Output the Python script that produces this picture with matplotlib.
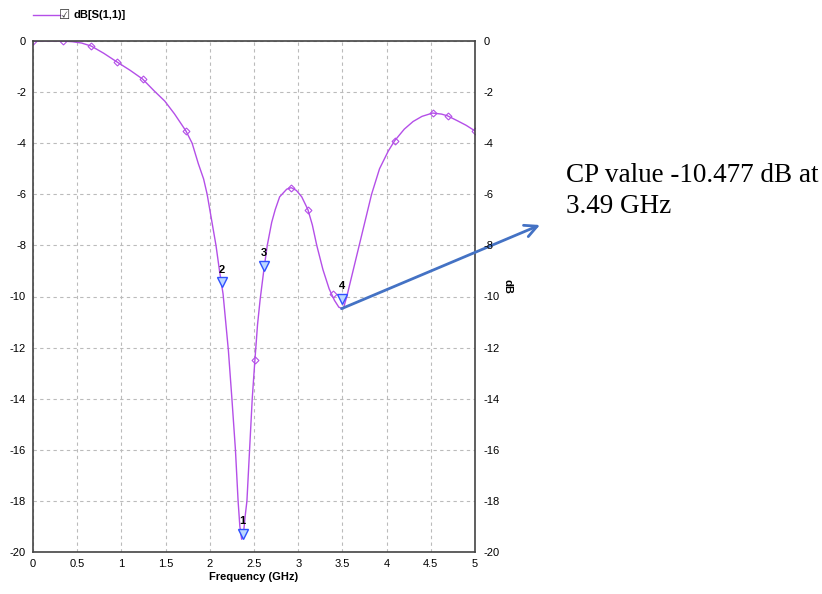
import matplotlib.pyplot as plt

plt.rcParams['axes.unicode_minus'] = False

# S11 trace
freq = [0, 0.2, 0.34, 0.45, 0.55, 0.66, 0.8, 0.95, 1.1, 1.24, 1.37, 1.49, 1.6, 1.73,
        1.8, 1.87, 1.93, 1.97, 2.02, 2.07, 2.11, 2.15, 2.18, 2.21, 2.25, 2.29, 2.32,
        2.34, 2.36, 2.38, 2.4, 2.42, 2.45, 2.48, 2.51, 2.54, 2.57, 2.61, 2.65, 2.7,
        2.74, 2.79, 2.87, 2.92, 2.98, 3.04, 3.11, 3.16, 3.21, 3.28, 3.35, 3.41, 3.46,
        3.51, 3.55, 3.62, 3.69, 3.76, 3.83, 3.92, 4.02, 4.09, 4.2, 4.3, 4.4, 4.52,
        4.62, 4.69, 4.8, 4.9, 5.0]
s11 = [0, 0, 0, -0.03, -0.08, -0.2, -0.48, -0.82, -1.15, -1.49, -1.95, -2.35, -2.85, -3.52,
       -4.0, -4.8, -5.4, -6.0, -7.0, -8.0, -9.0, -9.9, -11.0, -12.1, -14.0, -16.0, -18.0,
       -19.0, -19.5, -19.3, -18.6, -18.0, -16.0, -14.0, -12.5, -11.1, -10.1, -9.0, -8.0, -7.1,
       -6.6, -6.1, -5.8, -5.74, -5.85, -6.1, -6.6, -7.2, -8.0, -8.95, -9.7, -10.15, -10.42,
       -10.48, -10.0, -9.0, -8.0, -7.0, -6.0, -5.0, -4.3, -3.91, -3.45, -3.15, -2.95, -2.82,
       -2.86, -2.93, -3.12, -3.3, -3.52]

# diamond symbols on the trace
sym_f = [0, 0.34, 0.66, 0.95, 1.24, 1.73, 2.51, 2.92, 3.11, 3.39, 4.09, 4.52, 4.69, 5.0]
sym_v = [0, 0, -0.2, -0.82, -1.49, -3.52, -12.5, -5.74, -6.6, -9.9, -3.91, -2.82, -2.93, -3.52]

# markers 1..4
mk_f = [2.37, 2.14, 2.61, 3.495]
mk_v = [-19.3, -9.45, -8.8, -10.1]
mk_lbl = ['1', '2', '3', '4']

cp_f = 3.49
cp_v = -10.477

purple = '#B44FE8'

fig = plt.figure(figsize=(8.22, 5.94), dpi=100)
ax = fig.add_axes([33/822, 1-552/594, 442/822, 511/594])

ax.plot(freq, s11, color=purple, lw=1)
ax.plot(sym_f, sym_v, ls='none', marker='D', ms=3.5, mfc='none', mec=purple, mew=0.8)
ax.plot(mk_f, mk_v, ls='none', marker='v', ms=7, mfc='#bcd8ff', mec='#3050ff', mew=1)
for f, v, t in zip(mk_f, mk_v, mk_lbl):
    ax.text(f, v + 0.3, t, ha='center', va='bottom', fontsize=8, fontweight='bold',
            family='Liberation Sans')

ax.set_xlim(0, 5)
ax.set_ylim(-20, 0)
ax.set_xticks([0, 0.5, 1, 1.5, 2, 2.5, 3, 3.5, 4, 4.5, 5])
ax.set_xticklabels(['0', '0.5', '1', '1.5', '2', '2.5', '3', '3.5', '4', '4.5', '5'])
ax.set_yticks(range(-20, 1, 2))
ax.grid(True, ls=(0, (3, 3)), color='#bbbbbb', lw=0.8)
ax.tick_params(length=0, labelsize=8, pad=5)
for lab in ax.get_xticklabels() + ax.get_yticklabels():
    lab.set_family('Liberation Sans')
for s in ax.spines.values():
    s.set_color('#444444')
    s.set_linewidth(1.2)
ax.set_xlabel('Frequency (GHz)', fontsize=8, fontweight='bold', family='Liberation Sans',
              labelpad=2)

ax2 = ax.twinx()
ax2.set_ylim(-20, 0)
ax2.set_yticks(range(-20, 1, 2))
ax2.tick_params(length=0, labelsize=8, pad=6)
for lab in ax2.get_yticklabels():
    lab.set_family('Liberation Sans')
ax2.set_ylabel('dB', fontsize=8, fontweight='bold', family='Liberation Sans',
               rotation=270, labelpad=8)
ax2.yaxis.set_label_coords(1.085, 0.52)
for s in ax2.spines.values():
    s.set_visible(False)

# legend entry above the plot
fig.add_artist(plt.Line2D([33/822, 60/822], [1-15/594, 1-15/594], color=purple, lw=1))
fig.text(65/822, 1-15/594, '\u2611', fontsize=9, va='center', ha='center',
         family='DejaVu Sans', color='#333333')
fig.text(73/822, 1-15/594, 'dB[S(1,1)]', fontsize=8, fontweight='bold', va='center',
         family='Liberation Sans')

# callout
ax.annotate('', xy=(540, 594-225), xycoords='figure pixels',
            xytext=(cp_f, cp_v), textcoords='data',
            arrowprops=dict(arrowstyle='->', color='#4472C4', lw=2, mutation_scale=22,
                            shrinkA=0, shrinkB=0))
fig.text(566/822, 1-163/594, 'CP value -10.477 dB at\n3.49 GHz', fontsize=19.5,
         family='Liberation Serif', va='top', ha='left', linespacing=1.3)

fig.savefig('out.png', dpi=100)
